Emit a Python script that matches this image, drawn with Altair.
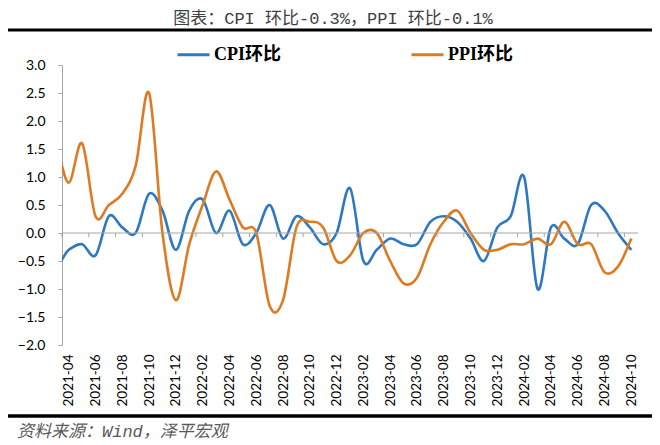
import altair as alt
import pandas as pd

months = [
    "2021-02", "2021-03",
    "2021-04", "2021-05", "2021-06", "2021-07", "2021-08", "2021-09", "2021-10", "2021-11", "2021-12",
    "2022-01", "2022-02", "2022-03", "2022-04", "2022-05", "2022-06", "2022-07", "2022-08", "2022-09",
    "2022-10", "2022-11", "2022-12",
    "2023-01", "2023-02", "2023-03", "2023-04", "2023-05", "2023-06", "2023-07", "2023-08", "2023-09",
    "2023-10", "2023-11", "2023-12",
    "2024-01", "2024-02", "2024-03", "2024-04", "2024-05", "2024-06", "2024-07", "2024-08", "2024-09",
    "2024-10",
]
cpi = [
    0.6, -0.5,
    -0.3, -0.2, -0.4, 0.3, 0.1, 0.0, 0.7, 0.4, -0.3,
    0.4, 0.6, 0.0, 0.4, -0.2, 0.0, 0.5, -0.1, 0.3, 0.1, -0.2, 0.0,
    0.8, -0.5, -0.3, -0.1, -0.2, -0.2, 0.2, 0.3, 0.2, -0.1, -0.5, 0.1,
    0.3, 1.0, -1.0, 0.1, -0.1, -0.2, 0.5, 0.4, 0.0, -0.3,
]
ppi = [
    1.7, 1.6,
    0.9, 1.6, 0.3, 0.5, 0.7, 1.2, 2.5, 0.0, -1.2,
    -0.2, 0.5, 1.1, 0.6, 0.1, 0.0, -1.3, -1.2, 0.1, 0.2, 0.1, -0.5,
    -0.4, 0.0, 0.0, -0.5, -0.9, -0.8, -0.2, 0.2, 0.4, 0.0, -0.3, -0.3,
    -0.2, -0.2, -0.1, -0.2, 0.2, -0.2, -0.2, -0.7, -0.6, -0.1,
]
y_ticks = [-2.0, -1.5, -1.0, -0.5, 0.0, 0.5, 1.0, 1.5, 2.0, 2.5, 3.0]
series_names = ["CPI环比", "PPI环比"]
series_colors = ["#2E78C2", "#DC7B22"]
title_text = "图表：CPI 环比-0.3%，PPI 环比-0.1%"
source_text = "资料来源：Wind，泽平宏观"

first_shown = months.index("2021-04")
idx = [i - first_shown for i in range(len(months))]
n_last = idx[-1]

rows = []
for name, vals in zip(series_names, [cpi, ppi]):
    for i, m, v in zip(idx, months, vals):
        rows.append({"idx": i, "month": m, "value": v, "series": name})
df = pd.DataFrame(rows)

label_vals = [i for i in idx if i >= 0 and i % 2 == 0]
label_map = {i: m for i, m in zip(idx, months)}
label_expr = "{" + ",".join(f"'{k}':'{v}'" for k, v in label_map.items()) + "}[toString(datum.value)]"

tick_pos = [i - 0.5 for i in range(0, n_last + 1, 2)]
tick_df = pd.DataFrame({"idx": tick_pos,
                        "value": [0.0] * len(tick_pos),
                        "value2": [-0.075] * len(tick_pos)})
zero_df = pd.DataFrame({"value": [0.0]})

xscale = alt.Scale(domain=[-0.5, n_last + 0.5], nice=False, zero=False)
yscale = alt.Scale(domain=[-2, 3], nice=False)

base_font = "Lato"

x_axis = alt.Axis(
    values=label_vals,
    labelExpr=label_expr,
    labelAngle=-90,
    labelPadding=9,
    labelFontSize=13.5,
    domain=False,
    ticks=False,
    title=None,
)
y_axis = alt.Axis(
    values=y_ticks,
    format=".1f",
    labelPadding=13,
    labelFontSize=14,
    tickSize=4,
    title=None,
)

lines = alt.Chart(df).mark_line(
    interpolate="cardinal", strokeWidth=2.6, clip=True
).encode(
    x=alt.X("idx:Q", scale=xscale, axis=x_axis),
    y=alt.Y("value:Q", scale=yscale, axis=y_axis),
    color=alt.Color(
        "series:N",
        scale=alt.Scale(domain=series_names, range=series_colors),
        legend=alt.Legend(
            orient="none",
            legendX=114,
            legendY=-28,
            direction="horizontal",
            title=None,
            symbolType="stroke",
            symbolSize=1024,
            symbolStrokeWidth=3,
            labelFont="Liberation Serif, Noto Sans CJK SC",
            labelFontSize=18,
            labelFontWeight="bold",
            labelColor="#000000",
            labelOffset=3,
            columnPadding=124,
        ),
    ),
    order=alt.Order("idx:Q"),
)

zero = alt.Chart(zero_df).mark_rule(color="#A6A6A6", strokeWidth=1).encode(
    y=alt.Y("value:Q", scale=yscale, axis=y_axis)
)

ticks = alt.Chart(tick_df).mark_rule(color="#A6A6A6", strokeWidth=1).encode(
    x=alt.X("idx:Q", scale=xscale, axis=x_axis),
    y=alt.Y("value:Q", scale=yscale, axis=y_axis),
    y2=alt.Y2("value2:Q"),
)

top_line = alt.Chart(pd.DataFrame({"a": [0]})).mark_rule(color="#000000", strokeWidth=3).encode(
    x=alt.value(-60), x2=alt.value(598), y=alt.value(-35)
)
bottom_line = alt.Chart(pd.DataFrame({"a": [0]})).mark_rule(color="#000000", strokeWidth=3.5).encode(
    x=alt.value(-60), x2=alt.value(598), y=alt.value(351)
)

source = alt.Chart(pd.DataFrame({"t": [source_text]})).mark_text(
    align="left", baseline="middle", font="Liberation Mono, Noto Sans CJK SC", fontSize=17,
    fontStyle="italic", color="#595959"
).encode(text="t:N", x=alt.value(-45), y=alt.value(367))

chart = alt.layer(lines, zero, ticks, top_line, bottom_line, source).properties(
    width=576,
    height=280,
    title=alt.TitleParams(
        text=title_text,
        font="Liberation Mono, Noto Sans CJK SC",
        fontSize=17,
        fontWeight="normal",
        color="#404040",
        anchor="middle",
        dx=-17,
        offset=1,
    ),
    autosize=alt.AutoSizeParams(type="none"),
    padding={"left": 54, "top": 57, "right": 14, "bottom": 100},
).configure(
    background="#FFFFFF",
    view=alt.ViewConfig(stroke=None),
    axis=alt.AxisConfig(
        labelOverlap=False,
        labelBound=False,
        labelFlush=False,
        labelFont=base_font,
        labelColor="#000000",
        domainColor="#A6A6A6",
        tickColor="#A6A6A6",
        grid=False,
    ),
)

chart.save("out.html", embed_options={"renderer": "svg", "actions": False})
